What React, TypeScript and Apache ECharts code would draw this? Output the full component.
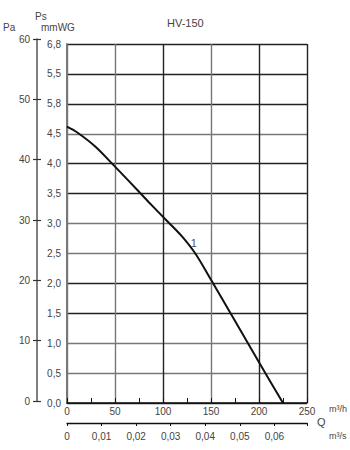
import React, { useEffect, useRef } from "react";
import * as echarts from "echarts";

// Curve 1 (HV-150): flow in m³/h, static pressure in mmWG
const flowQ = [0, 10, 30, 47, 65, 85, 105, 120, 134, 150, 174, 200, 225];
const pressure = [4.62, 4.53, 4.28, 4.0, 3.7, 3.36, 3.03, 2.78, 2.49, 2.06, 1.4, 0.68, 0.0];

const mmwgLabels = ["0,0", "0,5", "1,0", "1,5", "2,0", "2,5", "3,0", "3,5", "4,0", "4,5", "5,8", "5,5", "6,8"];
const paTicks = [0, 10, 20, 30, 40, 50, 60];
const m3hTicks = [0, 50, 100, 150, 200, 250];
const m3sTicks = [0, 0.01, 0.02, 0.03, 0.04, 0.05, 0.06];

const title = "HV-150";
const curveLabel = "1";
const curveLabelAt = [132, 2.67];

const FONT = "'Liberation Sans', Arial, sans-serif";
const TXT = "#444";

export default function App() {
  const ref = useRef<HTMLDivElement>(null);
  useEffect(() => {
    if (!ref.current) return;
    const chart = echarts.init(ref.current, null, { renderer: "svg" });
    const yColors = ["#222", "#777", "#777", "#222", "#222", "#777", "#777", "#222", "#222", "#777", "#222", "#222", "#222"];
    const xColors = ["#777", "#777", "#222", "#777", "#222", "#222"];
    chart.setOption({
      animation: false,
      backgroundColor: "#fff",
      textStyle: { fontFamily: FONT },
      grid: [
        { left: 67, right: 43, top: 44, bottom: 47 },
        { left: 37, width: 1, top: 39, bottom: 49 },
      ],
      xAxis: [
        {
          gridIndex: 0,
          type: "value",
          min: m3hTicks[0],
          max: m3hTicks[m3hTicks.length - 1],
          interval: 50,
          axisLine: { show: true, onZero: false, lineStyle: { color: "#111", width: 1.5 } },
          axisTick: { show: true, inside: true, length: 5, lineStyle: { color: "#111" } },
          minorTick: { show: true, splitNumber: 2, length: 5, lineStyle: { color: "#111" } },
          axisLabel: { color: TXT, fontSize: 10, margin: 3, fontFamily: FONT },
          splitLine: { show: true, lineStyle: { color: xColors, width: 1.4 } },
        },
        {
          gridIndex: 0,
          type: "value",
          position: "bottom",
          offset: 20,
          min: 0,
          max: m3hTicks[m3hTicks.length - 1] / 3600,
          interval: 0.01,
          axisLine: { show: true, onZero: false, lineStyle: { color: "#111", width: 1.3 } },
          axisTick: { show: true, inside: false, length: 3, lineStyle: { color: "#111" } },
          axisLabel: {
            color: TXT,
            fontSize: 10,
            margin: 8,
            fontFamily: FONT,
            formatter: (v: number) => {
              const i = m3sTicks.findIndex((t) => Math.abs(t - v) < 1e-7);
              if (i < 0) return "";
              return v === 0 ? "0" : m3sTicks[i].toFixed(2).replace(".", ",");
            },
          },
          splitLine: { show: false },
        },
        { gridIndex: 1, type: "value", show: false, min: 0, max: 1 },
      ],
      yAxis: [
        {
          gridIndex: 0,
          type: "value",
          min: 0,
          max: 6,
          interval: 0.5,
          axisLine: { show: true, onZero: false, lineStyle: { color: "#777", width: 2 } },
          axisTick: { show: false },
          axisLabel: {
            color: TXT,
            fontSize: 10,
            margin: 6,
            fontFamily: FONT,
            formatter: (v: number) => mmwgLabels[Math.round(v / 0.5)] ?? "",
          },
          splitLine: { show: true, lineStyle: { color: yColors, width: 1.4 } },
        },
        {
          gridIndex: 1,
          type: "value",
          min: paTicks[0],
          max: paTicks[paTicks.length - 1],
          interval: 10,
          position: "left",
          axisLine: { show: true, onZero: false, lineStyle: { color: "#555", width: 1.5 } },
          axisTick: { show: true, inside: false, length: 4, lineStyle: { color: "#333", width: 1.2 } },
          axisLabel: { color: TXT, fontSize: 10, margin: 7, fontFamily: FONT },
          splitLine: { show: false },
        },
        {
          gridIndex: 1,
          type: "value",
          min: paTicks[0],
          max: paTicks[paTicks.length - 1],
          interval: 10,
          position: "left",
          axisLine: { show: false },
          axisTick: { show: true, inside: true, length: 4, lineStyle: { color: "#333", width: 1.2 } },
          axisLabel: { show: false },
          splitLine: { show: false },
        },
      ],
      series: [
        {
          type: "line",
          xAxisIndex: 0,
          yAxisIndex: 0,
          data: flowQ.map((q, i) => [q, pressure[i]]),
          smooth: 0.3,
          showSymbol: false,
          lineStyle: { color: "#111", width: 2 },
          itemStyle: { color: "#111" },
        },
        {
          type: "scatter",
          xAxisIndex: 0,
          yAxisIndex: 0,
          symbolSize: 0,
          silent: true,
          itemStyle: { color: "#222" },
          data: [curveLabelAt],
          label: {
            show: true,
            position: "inside",
            formatter: () => curveLabel,
            color: "#222",
            fontSize: 11,
            fontFamily: FONT,
          },
        },
      ],
      graphic: [
        { type: "text", left: 167, top: 17, style: { text: title, fill: TXT, fontSize: 11, fontFamily: FONT } },
        { type: "text", left: 3, top: 22, style: { text: "Pa", fill: TXT, fontSize: 10, fontFamily: FONT } },
        { type: "text", left: 35, top: 11, style: { text: "Ps", fill: TXT, fontSize: 10, fontFamily: FONT } },
        { type: "text", left: 41, top: 22, style: { text: "mmWG", fill: TXT, fontSize: 10, fontFamily: FONT } },
        { type: "text", left: 329, top: 404, style: { text: "m³/h", fill: TXT, fontSize: 9, fontFamily: FONT } },
        { type: "text", left: 317, top: 416, style: { text: "Q", fill: TXT, fontSize: 11, fontFamily: FONT } },
        { type: "text", left: 329, top: 431, style: { text: "m³/s", fill: TXT, fontSize: 9, fontFamily: FONT } },
      ],
    });
    return () => chart.dispose();
  }, []);
  return <div ref={ref} style={{ position: "fixed", left: 0, top: 0, width: 350, height: 450 }} />;
}
